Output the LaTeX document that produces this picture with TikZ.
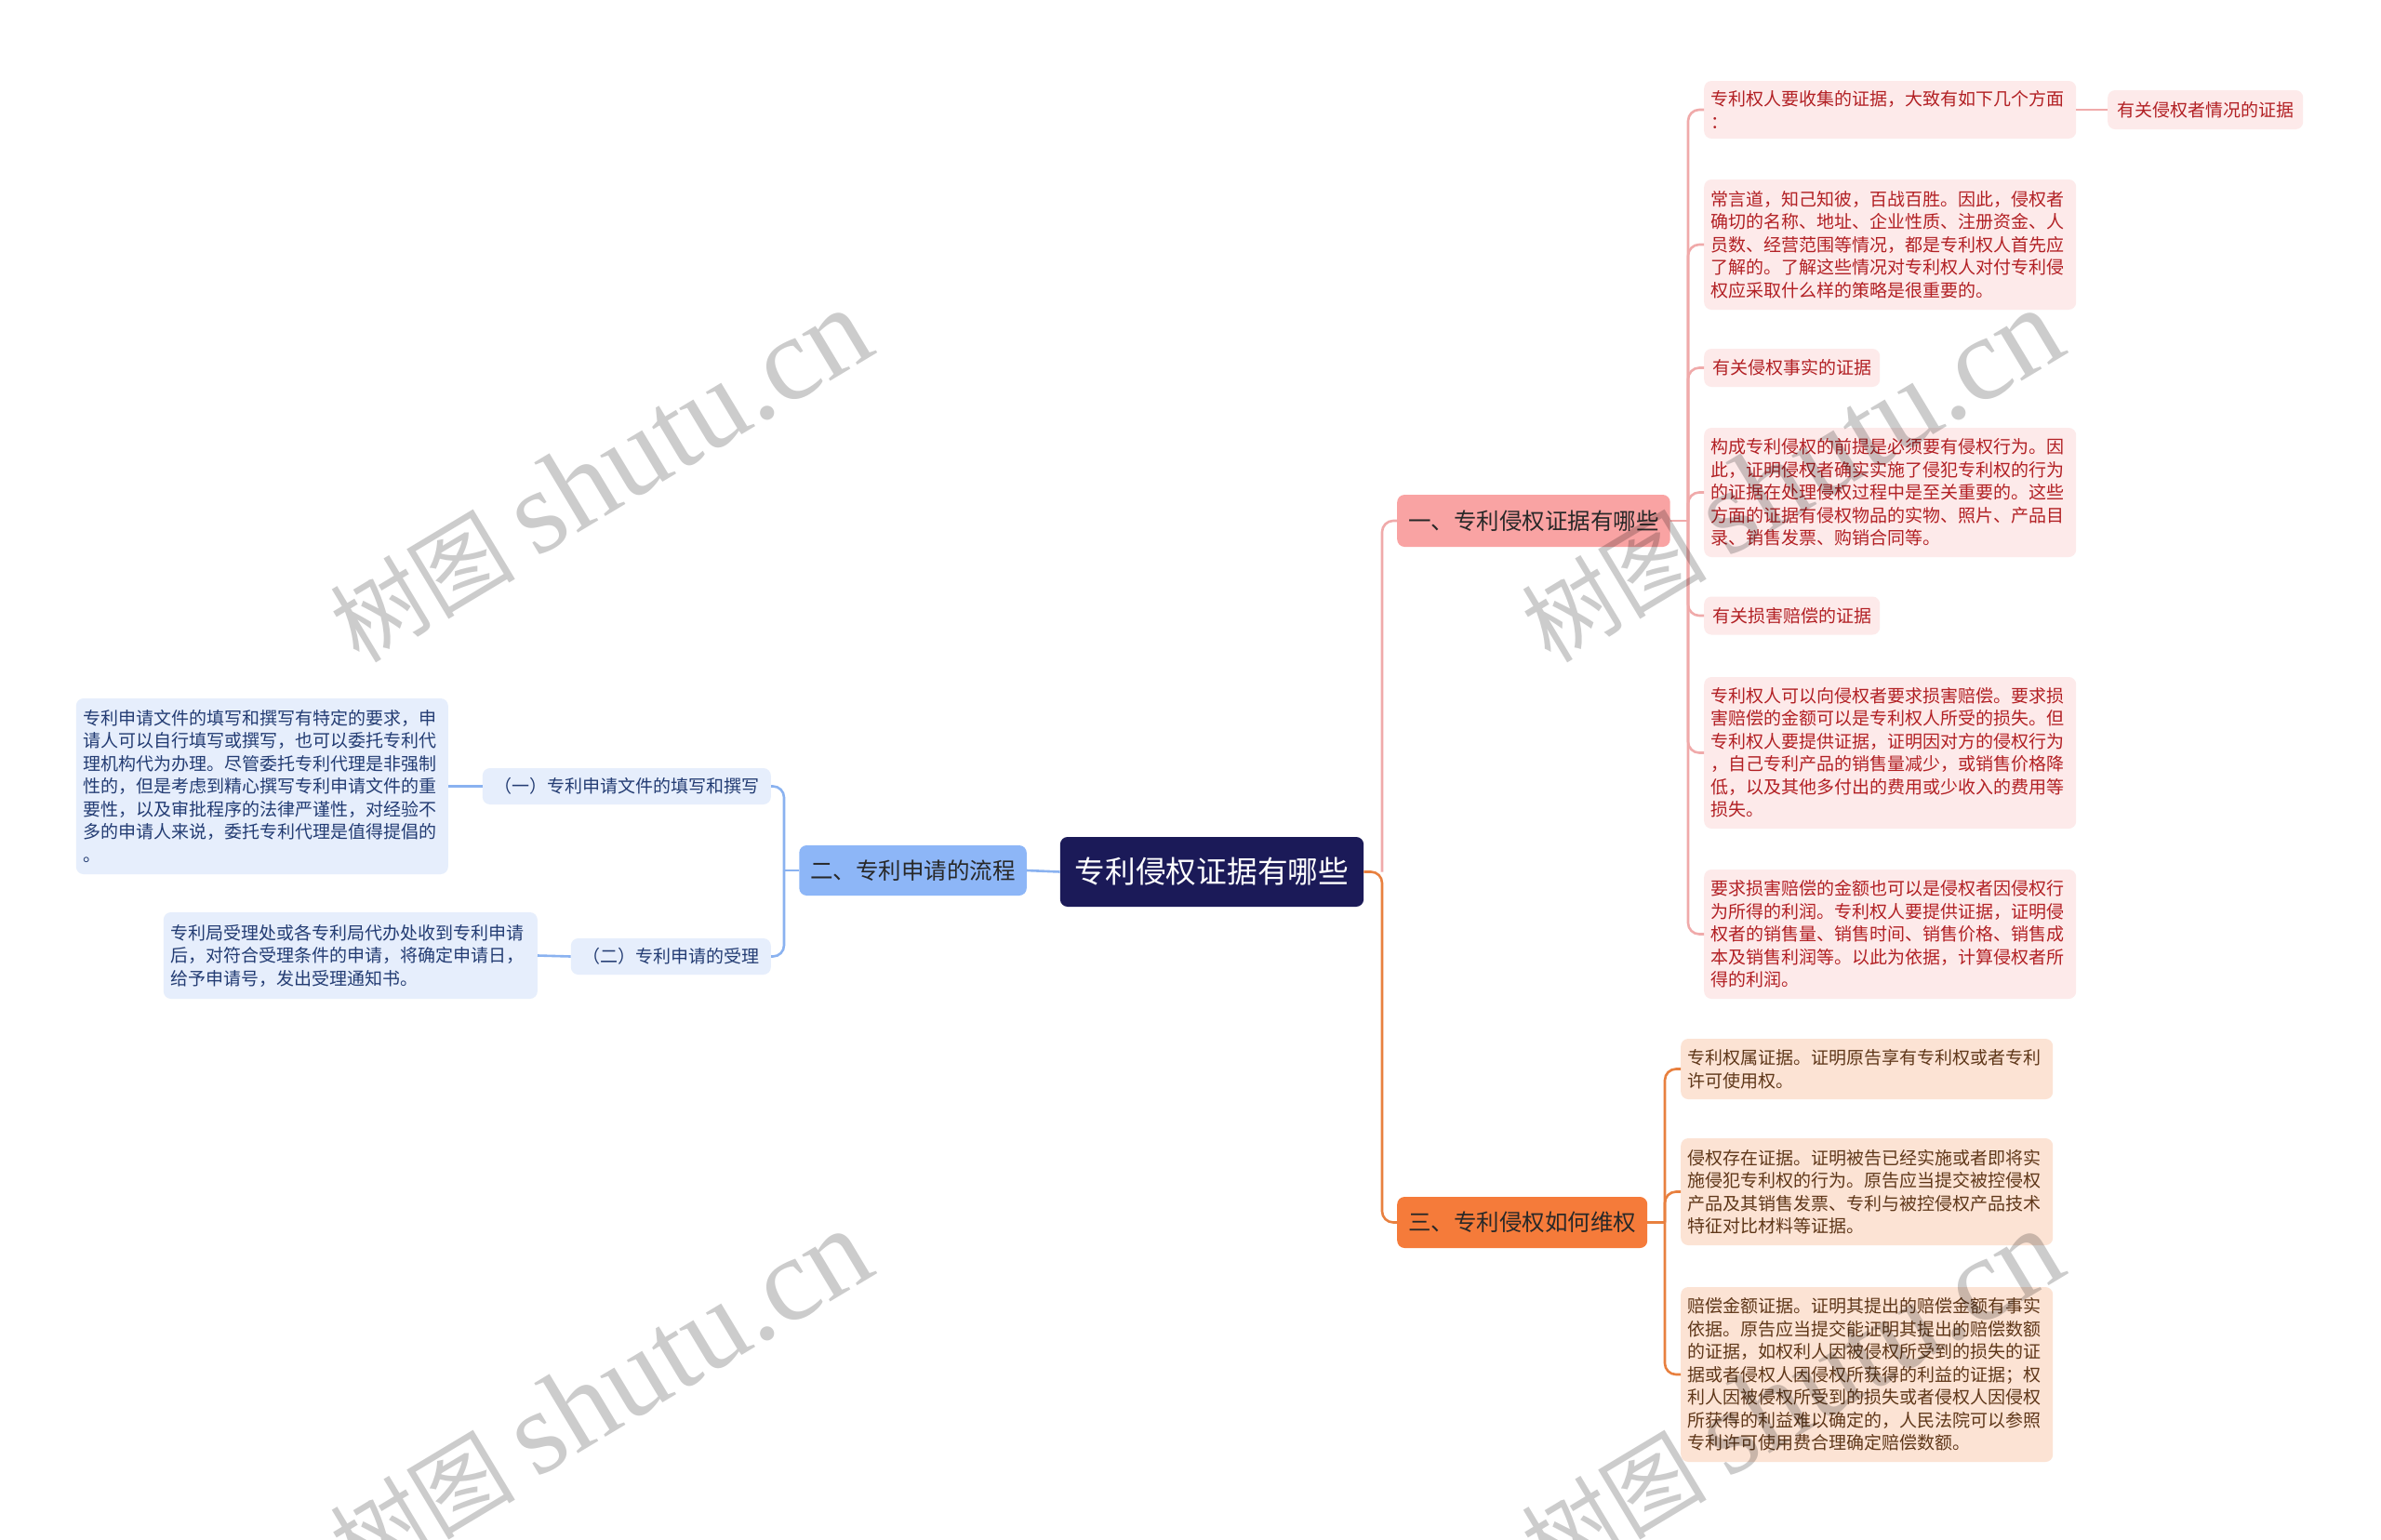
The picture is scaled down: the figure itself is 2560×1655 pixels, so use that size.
\documentclass[tikz,border=0pt]{standalone}
\usepackage{fontspec}
\setmainfont{Noto Sans CJK SC}
\newfontfamily\wmlatin{Liberation Serif}
\definecolor{rootfill}{RGB}{27,26,88}
\definecolor{bonefill}{RGB}{249,163,163}
\definecolor{btwofill}{RGB}{141,182,247}
\definecolor{bthreefill}{RGB}{245,123,58}
\definecolor{pleaffill}{RGB}{253,234,234}
\definecolor{oleaffill}{RGB}{252,227,212}
\definecolor{bleaffill}{RGB}{230,238,252}
\definecolor{ptext}{RGB}{178,32,36}
\definecolor{otext}{RGB}{95,55,25}
\definecolor{btext}{RGB}{35,60,115}
\definecolor{brtext}{RGB}{40,40,40}
\definecolor{plinec}{RGB}{240,170,170}
\definecolor{olinec}{RGB}{232,128,63}
\definecolor{blinec}{RGB}{138,178,240}
\begin{document}
\begin{tikzpicture}[x=1pt,y=-1pt,
  rootbox/.style={fill=rootfill,text=white,rounded corners=8pt,inner xsep=16pt,minimum height=75pt,font=\fontsize{32.7}{36}\selectfont},
  brbox/.style={rounded corners=8pt,inner xsep=12pt,text=brtext,font=\fontsize{24.5}{28}\selectfont,anchor=west},
  leafbase/.style={rounded corners=8pt,inner xsep=7.5pt,inner ysep=0pt,align=left,font=\fontsize{19}{24.5}\selectfont},
  pleaf/.style={leafbase,fill=pleaffill,text=ptext,anchor=west},
  oleaf/.style={leafbase,fill=oleaffill,text=otext,anchor=west},
  bleaf/.style={leafbase,fill=bleaffill,text=btext,anchor=east},
  subbox/.style={rounded corners=8pt,inner xsep=12.5pt,fill=bleaffill,text=btext,font=\fontsize{19}{24.5}\selectfont,minimum height=39pt,anchor=east},
  pline/.style={draw=plinec,line width=2.6pt,rounded corners=12pt},
  oline/.style={draw=olinec,line width=2.6pt,rounded corners=12pt},
  bline/.style={draw=blinec,line width=2.6pt,rounded corners=12pt},
  wm/.style={text=black,text opacity=0.2,font=\fontsize{100}{104}\selectfont,rotate=31}
]
\useasboundingbox[fill=white] (0,0) rectangle (2560,1655);

% root and main branches
\node[rootbox] (root) at (1303,937.5) {专利侵权证据有哪些};
\node[brbox,fill=bonefill,minimum height=56pt] (bone) at (1502,560) {一、专利侵权证据有哪些};
\node[brbox,fill=bthreefill,minimum height=55pt] (bthree) at (1502,1314.5) {三、专利侵权如何维权};
\node[brbox,fill=btwofill,minimum height=54pt,anchor=east] (btwo) at (1104,936) {二、专利申请的流程};

% pink leaves
\node[pleaf,text width=385pt,minimum height=62pt] (la) at (1832,118) {专利权人要收集的证据，大致有如下几个方面\\：};
\node[pleaf,minimum height=42pt,inner xsep=10pt] (laa) at (2266,118) {有关侵权者情况的证据};
\node[pleaf,text width=385pt,minimum height=140pt] (lb) at (1832,263) {常言道，知己知彼，百战百胜。因此，侵权者\\确切的名称、地址、企业性质、注册资金、人\\员数、经营范围等情况，都是专利权人首先应\\了解的。了解这些情况对专利权人对付专利侵\\权应采取什么样的策略是很重要的。};
\node[pleaf,minimum height=41pt,inner xsep=9pt] (lc) at (1832,395.5) {有关侵权事实的证据};
\node[pleaf,text width=385pt,minimum height=139pt] (ld) at (1832,529.5) {构成专利侵权的前提是必须要有侵权行为。因\\此，证明侵权者确实实施了侵犯专利权的行为\\的证据在处理侵权过程中是至关重要的。这些\\方面的证据有侵权物品的实物、照片、产品目\\录、销售发票、购销合同等。};
\node[pleaf,minimum height=41pt,inner xsep=9pt] (le) at (1832,662) {有关损害赔偿的证据};
\node[pleaf,text width=385pt,minimum height=163pt] (lf) at (1832,809.5) {专利权人可以向侵权者要求损害赔偿。要求损\\害赔偿的金额可以是专利权人所受的损失。但\\专利权人要提供证据，证明因对方的侵权行为\\，自己专利产品的销售量减少，或销售价格降\\低，以及其他多付出的费用或少收入的费用等\\损失。};
\node[pleaf,text width=385pt,minimum height=139pt] (lg) at (1832,1004.5) {要求损害赔偿的金额也可以是侵权者因侵权行\\为所得的利润。专利权人要提供证据，证明侵\\权者的销售量、销售时间、销售价格、销售成\\本及销售利润等。以此为依据，计算侵权者所\\得的利润。};

% orange leaves
\node[oleaf,text width=385pt,minimum height=65pt] (lh) at (1807,1149.5) {专利权属证据。证明原告享有专利权或者专利\\许可使用权。};
\node[oleaf,text width=385pt,minimum height=115pt] (li) at (1807,1281.5) {侵权存在证据。证明被告已经实施或者即将实\\施侵犯专利权的行为。原告应当提交被控侵权\\产品及其销售发票、专利与被控侵权产品技术\\特征对比材料等证据。};
\node[oleaf,text width=385pt,minimum height=188pt] (lj) at (1807,1478) {赔偿金额证据。证明其提出的赔偿金额有事实\\依据。原告应当提交能证明其提出的赔偿数额\\的证据，如权利人因被侵权所受到的损失的证\\据或者侵权人因侵权所获得的利益的证据；权\\利人因被侵权所受到的损失或者侵权人因侵权\\所获得的利益难以确定的，人民法院可以参照\\专利许可使用费合理确定赔偿数额。};

% blue side
\node[subbox] (sone) at (829,845.5) {（一）专利申请文件的填写和撰写};
\node[subbox] (stwo) at (829,1028.5) {（二）专利申请的受理};
\node[bleaf,text width=385pt,minimum height=189pt] (lk) at (482,845.5) {专利申请文件的填写和撰写有特定的要求，申\\请人可以自行填写或撰写，也可以委托专利代\\理机构代为办理。尽管委托专利代理是非强制\\性的，但是考虑到精心撰写专利申请文件的重\\要性，以及审批程序的法律严谨性，对经验不\\多的申请人来说，委托专利代理是值得提倡的\\。};
\node[bleaf,text width=387pt,minimum height=93pt] (ll) at (578,1027.5) {专利局受理处或各专利局代办处收到专利申请\\后，对符合受理条件的申请，将确定申请日，\\给予申请号，发出受理通知书。};

% trunk coordinates
\coordinate (rt) at (1486,937.5);
\coordinate (tone) at (1815,560);
\coordinate (tthree) at (1790,1314.5);
\coordinate (ttwo) at (843,936);

% connectors right
\draw[pline] (rt) |- (bone.west);
\draw[oline] (root.east) -- (rt) |- (bthree.west);
\draw[pline] (bone.east) -- (tone);
\foreach \n in {la,lb,lc,ld,le,lf,lg} {\draw[pline] (tone) |- (\n.west);}
\draw[pline] (la.east) -- (laa.west);
\draw[oline] (bthree.east) -- (tthree);
\foreach \n in {lh,li,lj} {\draw[oline] (tthree) |- (\n.west);}

% connectors left
\draw[bline] (root.west) -- (btwo.east);
\draw[bline] (btwo.west) -- (ttwo);
\draw[bline] (ttwo) |- (sone.east);
\draw[bline] (ttwo) |- (stwo.east);
\draw[bline] (sone.west) -- (lk.east);
\draw[bline] (stwo.west) -- (ll.east);

% watermarks
\node[wm] (wa) at (645,512) {树图 {\wmlatin\fontsize{128}{130}\selectfont shutu.cn}};
\node[wm] (wb) at (645,1502) {树图 {\wmlatin\fontsize{128}{130}\selectfont shutu.cn}};
\node[wm] (wc) at (1926,512) {树图 {\wmlatin\fontsize{128}{130}\selectfont shutu.cn}};
\node[wm] (wd) at (1926,1502) {树图 {\wmlatin\fontsize{128}{130}\selectfont shutu.cn}};
\end{tikzpicture}
\end{document}
